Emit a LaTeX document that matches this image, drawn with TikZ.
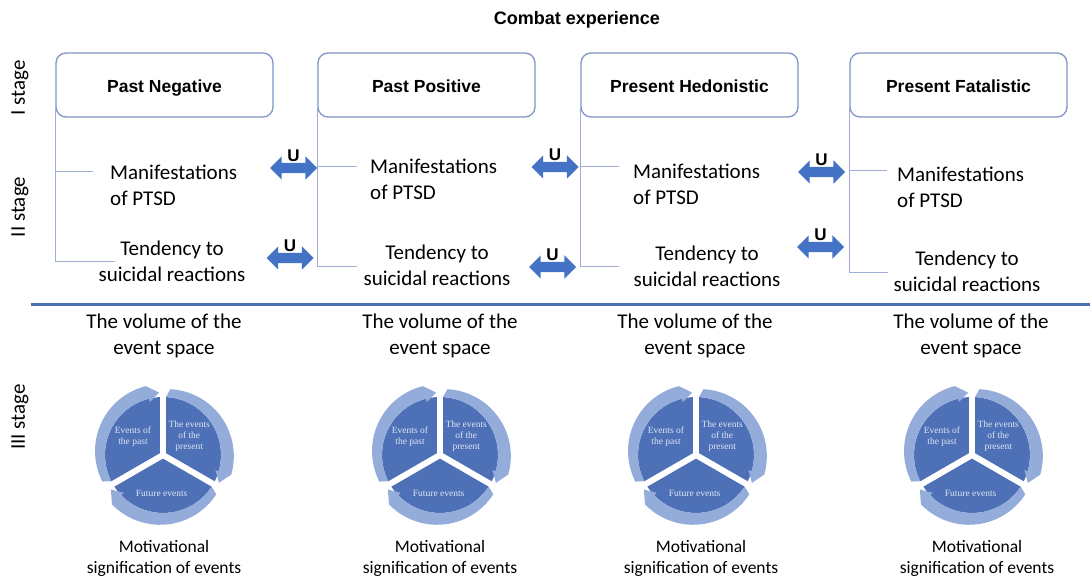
\documentclass[tikz,border=0pt]{standalone}
\usepackage{fontspec}
\setmainfont{Carlito}
\newfontfamily\headfont{Liberation Sans}
\newfontfamily\piefont{Liberation Serif}
\usetikzlibrary{positioning,shapes.arrows}

\definecolor{boxc}{RGB}{128,148,200}
\definecolor{linec}{RGB}{160,174,214}
\definecolor{arrowc}{RGB}{68,114,196}
\definecolor{sepc}{RGB}{72,110,180}
\definecolor{sectc}{RGB}{77,112,182}
\definecolor{ringc}{RGB}{147,172,217}
\definecolor{labc}{RGB}{222,230,245}

\tikzset{
  pielab/.style={font=\piefont\fontsize{9.5}{11}\selectfont, text=labc, align=center, inner sep=0pt},
  evcycle/.pic={
    \begin{scope}[y=1pt]
    \foreach \a in {90,-30,210}{
      \fill[sectc] (0,0) -- (\a:58) arc[start angle=\a, end angle=\a+120, radius=58] -- cycle;
      \fill[ringc] (\a+117:58) arc[start angle=\a+117, end angle=\a+14, radius=58]
        -- (\a+14:54.5) -- (\a+3.5:62.5) -- (\a+14:71) arc[start angle=\a+14, end angle=\a+117, radius=67] -- cycle;
    }
    % ( white cuts between the three parts )
    \foreach \a in {90,-30,210}
      \draw[white, line width=6pt] (0,0) -- (\a:73);
    \node[pielab] (-past) at (149:35) {Events of\\the past};
    \node[pielab] (-now) at (35:32) {The events\\of the\\present};
    \node[pielab] (-next) at (268:38) {Future events};
    \end{scope}
  }
}

\begin{document}
\begin{tikzpicture}[x=1pt, y=-1pt,
  every node/.style={inner sep=0pt},
  head/.style={draw=boxc, line width=1.3pt, rounded corners=10pt, minimum width=217pt,
    minimum height=64pt, text height=16pt, text depth=0pt,
    font=\headfont\bfseries\fontsize{17.5}{21}\selectfont},
  link/.style={draw=linec, line width=1pt},
  body/.style={font=\fontsize{21}{26}\selectfont},
  small/.style={font=\fontsize{17.5}{21}\selectfont, align=center},
  stage/.style={font=\fontsize{21}{26}\selectfont, rotate=90},
  uarrow/.style={double arrow, fill=arrowc, inner xsep=0pt, inner ysep=5pt,
    minimum height=47pt, minimum width=23pt, double arrow head extend=6.5pt},
  ulab/.style={font=\headfont\bfseries\fontsize{17}{20}\selectfont}]

\useasboundingbox (0,0) rectangle (1090,577);

\node[font=\headfont\bfseries\fontsize{18}{22}\selectfont] (title) at (577,20) {Combat experience};

\node[stage] (s1) at (20,88) {I stage};
\node[stage] (s2) at (20,207) {II stage};
\node[stage] (s3) at (20,417) {III stage};

\node[head] (b1) at (164.5,85) {Past Negative};
\node[head] (b2) at (426.5,85) {Past Positive};
\node[head] (b3) at (689.5,85) {Present Hedonistic};
\node[head] (b4) at (958.5,85) {Present Fatalistic};

% ( stage II: text of each column, then its branch lines )
\foreach \i/\mx/\my/\tx/\ty in {1/110/185.5/172/261.5, 2/370/179.5/437/265,
                                3/633/184.5/707/266.5, 4/897/187.5/967/271.5}{
  \node[body, anchor=west, align=left] (m\i) at (\mx,\my) {Manifestations\\of PTSD};
  \node[body, align=center] (t\i) at (\tx,\ty) {Tendency to\\suicidal reactions};
}
\foreach \i/\et/\bt/\eb/\bb in {1/93/172/115/262, 2/357/167/357/267,
                                3/619/167/619/267, 4/887/171/888/273}{
  \coordinate (mt\i) at (\et,\bt);
  \coordinate (tb\i) at (\eb,\bb);
  \draw[link] ([yshift=10pt]b\i.south west) |- (tb\i);
  \draw[link] (b\i.south west |- mt\i) -- (mt\i);
}

\node[uarrow] (a1) at (293.5,168) {};
\node[uarrow] (a2) at (290,258) {};
\node[uarrow] (a3) at (555,167) {};
\node[uarrow] (a4) at (552.5,267) {};
\node[uarrow] (a5) at (821.5,172) {};
\node[uarrow] (a6) at (820.5,247) {};
\foreach \i in {1,...,6}
  \node[ulab, above=0.5pt of a\i] (u\i) {U};

\draw[sepc, line width=3pt] (31,305) -- (1090,305);

% ( stage III )
\foreach \i/\vx/\px/\qx in {1/164/163/164, 2/440/440/440, 3/695/696/701, 4/971/972/977}{
  \node[body, align=center] (v\i) at (\vx,336) {The volume of the\\event space};
  \pic (c\i) at (\px,455) {evcycle};
  \node[small] (q\i) at (\qx,558) {Motivational\\signification of events};
}
\end{tikzpicture}
\end{document}
